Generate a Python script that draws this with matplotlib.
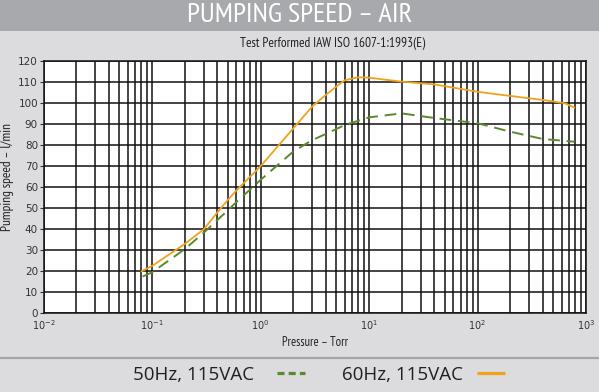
import matplotlib
matplotlib.use("Agg")
import matplotlib.pyplot as plt
from matplotlib.lines import Line2D
from matplotlib.patches import Rectangle
from matplotlib.ticker import LogLocator, FixedLocator, NullFormatter
from matplotlib import font_manager as fm

# ---- data ----
p_60 = [0.08, 0.1, 0.2, 0.3, 0.4, 0.5, 0.6, 1, 2, 3, 4, 5, 6, 8, 10, 20, 40, 100, 200, 400, 640, 780]
s_60 = [20, 22.5, 33, 40, 48, 54, 58.5, 70, 88, 98.5, 104, 108, 111, 112.4, 112.2, 110.3, 109, 105.5, 103.5, 101.6, 100, 98]
p_50 = [0.082, 0.1, 0.2, 0.3, 0.4, 0.5, 0.6, 1, 2, 3, 4, 6, 10, 20, 40, 100, 200, 400, 780]
s_50 = [17.5, 19.5, 30.5, 38.4, 44.4, 49, 53, 63.5, 77, 82.5, 85.4, 89.7, 93.3, 95.2, 93, 90.5, 86.5, 83, 81.7]
y_ticks = [0, 10, 20, 30, 40, 50, 60, 70, 80, 90, 100, 110, 120]
x_ticks = [1e-2, 1e-1, 1e0, 1e1, 1e2, 1e3]
x_tick_labels = [r"$10^{-2}$", r"$10^{-1}$", r"$10^{0}$", r"$10^{1}$", r"$10^{2}$", r"$10^{3}$"]
title = "PUMPING SPEED – AIR"
subtitle = "Test Performed IAW ISO 1607-1:1993(E)"
legend_labels = ["50Hz, 115VAC", "60Hz, 115VAC"]

BG = "#dcdcde"
BAND = "#a7a9ac"
ORANGE = "#f0a21c"
GREEN = "#5b8a2c"

# find a condensed / narrow sans font if available
cond_path = None
for f in fm.fontManager.ttflist:
    n = (f.fname or "").lower()
    if ("sansnarrow-regular" in n or "sans-narrow" in n and "bold" not in n and "italic" not in n):
        cond_path = f.fname
        break
if cond_path is None:
    for f in fm.fontManager.ttflist:
        n = (f.fname or "").lower()
        if "dejavusanscondensed.ttf" in n:
            cond_path = f.fname
            break


def cfont(size):
    if cond_path:
        return fm.FontProperties(fname=cond_path, size=size)
    return fm.FontProperties(family="DejaVu Sans", size=size * 0.85)


W, H = 599, 392
fig = plt.figure(figsize=(W / 100, H / 100), dpi=100, facecolor=BG)

# header band
fig.patches.append(Rectangle((0, 1 - 31 / H), 1, 31 / H, transform=fig.transFigure,
                             facecolor=BAND, edgecolor="none", zorder=0))
fig.text(0.5, 1 - 15.5 / H, title, color="white", fontproperties=cfont(20.5),
         ha="center", va="center")
fig.text(333 / W, 1 - 43 / H, subtitle, color="#222222", fontproperties=cfont(9.6),
         ha="center", va="center")

# axes
ax = fig.add_axes([43.5 / W, 1 - 313.3 / H, (586 - 43.5) / W, (313.3 - 61.3) / H])
ax.set_facecolor("white")
ax.set_xscale("log")
ax.set_xlim(1e-2, 1e3)
ax.set_ylim(0, 120)

ax.xaxis.set_major_locator(FixedLocator(x_ticks))
ax.set_xticklabels(x_tick_labels)
ax.xaxis.set_minor_locator(LogLocator(base=10, subs=range(2, 10), numticks=50))
ax.xaxis.set_minor_formatter(NullFormatter())
ax.set_yticks(y_ticks)

ax.grid(True, which="both", axis="x", color="#111111", lw=1.1)
ax.grid(True, which="major", axis="y", color="#111111", lw=1.1)
ax.set_axisbelow(True)

for s in ax.spines.values():
    s.set_color("#111111")
    s.set_linewidth(1.1)

ax.tick_params(axis="x", which="both", length=0, pad=3.5, labelsize=7, colors="#333333")
ax.tick_params(axis="y", which="major", length=3, width=0.8, pad=1, labelsize=7.5, colors="#333333")

ax.plot(p_60, s_60, color=ORANGE, lw=1.3, zorder=3)
ax.plot(p_50, s_50, color=GREEN, lw=1.4, dashes=(6, 3.5), zorder=3)

ax.set_xlabel("Pressure – Torr", fontproperties=cfont(9), color="#222222", labelpad=3)
fig.text(8 / W, 1 - 177 / H, "Pumping speed – l/min", rotation=90, fontproperties=cfont(9.6),
         color="#222222", ha="center", va="center")

# separator line
fig.add_artist(Line2D([0, 1], [1 - 358 / H, 1 - 358 / H], transform=fig.transFigure,
                      color="#a3a5a8", lw=1.6))

# legend
fig.text(254 / W, 1 - 375 / H, legend_labels[0], fontsize=13.5, color="#231f20",
         ha="right", va="center", family=["Open Sans", "DejaVu Sans"])
fig.add_artist(Line2D([277 / W, 305 / W], [1 - 372.7 / H] * 2, transform=fig.transFigure,
                      color=GREEN, lw=2.3, dashes=(2.2, 1.3), solid_capstyle="butt",
                      dash_capstyle="butt"))
fig.text(463 / W, 1 - 375 / H, legend_labels[1], fontsize=13.5, color="#231f20",
         ha="right", va="center", family=["Open Sans", "DejaVu Sans"])
fig.add_artist(Line2D([477 / W, 505 / W], [1 - 372.7 / H] * 2, transform=fig.transFigure,
                      color=ORANGE, lw=2.3, solid_capstyle="butt"))

fig.savefig("out.png", dpi=100, facecolor=BG)
